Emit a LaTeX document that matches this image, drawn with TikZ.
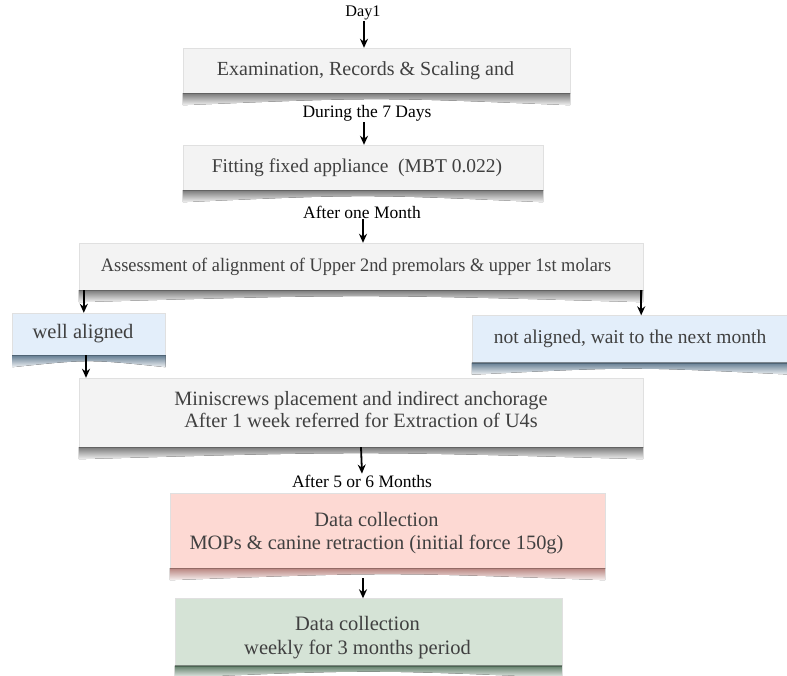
\documentclass[tikz,border=0pt]{standalone}
\usepackage{fontspec}
\setmainfont{Liberation Serif}
\newfontfamily\narrowserif[FakeStretch=0.965]{Liberation Serif}
\usetikzlibrary{arrows.meta,calc}
\definecolor{greyfill}{HTML}{F3F3F3}
\definecolor{greyshadow}{HTML}{7A7A7A}
\definecolor{bluefill}{HTML}{E3EEFA}
\definecolor{blueshadow}{HTML}{647D92}
\definecolor{pinkfill}{HTML}{FDD9D3}
\definecolor{pinkshadow}{HTML}{B8847F}
\definecolor{greenfill}{HTML}{D5E3D6}
\definecolor{greenshadow}{HTML}{5E7D67}
\definecolor{boxtext}{HTML}{404040}
\tikzset{
  flowbox/.style={draw=black!12, line width=0.4pt, inner sep=0pt, text=boxtext},
  greybox/.style={flowbox, fill=greyfill},
  bluebox/.style={flowbox, fill=bluefill},
  pinkbox/.style={flowbox, fill=pinkfill},
  greenbox/.style={flowbox, fill=greenfill},
  steplabel/.style={inner sep=1pt, font=\fontsize{17.5}{19}\selectfont},
  flowarrow/.style={-{Stealth[length=9pt,width=8pt]}, line width=1.8pt, black}
}
\newcommand\curlshadow[2]{%
  \fill[top color=#2, bottom color=#2!10!white]
    (#1.south west) -- (#1.south east) -- ([yshift=-12pt]#1.south east)
    .. controls ([yshift=-4pt]#1.south) and ([yshift=-4pt]#1.south) .. ([yshift=-12pt]#1.south west) -- cycle;
  \draw[#2!80!black, line width=1pt] ([yshift=-0.5pt]#1.south west) -- ([yshift=-0.5pt]#1.south east);}
\newcommand\twolines[2]{\begin{tabular}{@{}c@{}}#1\\#2\end{tabular}}
\begin{document}
\begin{tikzpicture}[x=1pt,y=-1pt]
\useasboundingbox (0,0) rectangle (787,675);
\path[fill=white] (0,0) rectangle (787,675);

% labels
\node[steplabel, font=\fontsize{16.2}{18}\selectfont] (day) at (363,13) {Day1};
\node[steplabel] (l7) at (367,113) {During the 7 Days};
\node[steplabel] (lm) at (362,212) {After one Month};
\node[steplabel] (l56) at (362,481) {After 5 or 6 Months};

% boxes
\node[greybox, minimum width=387pt, minimum height=45pt, font=\fontsize{20}{22}\selectfont] (b1) at (376.5,70.5) {Examination, Records \& Scaling and\kern22pt};
\node[greybox, minimum width=360pt, minimum height=45pt, font=\fontsize{19.5}{22}\selectfont] (b2) at (363,167.5) {Fitting fixed appliance\ \ (MBT 0.022)\kern12pt};
\node[greybox, minimum width=564pt, minimum height=47pt, font=\narrowserif\fontsize{19}{21}\selectfont] (b3) at (361,266.5) {Assessment of alignment of Upper 2nd premolars \& upper 1st molars\kern10pt};
\node[bluebox, minimum width=153pt, minimum height=42pt, font=\fontsize{20.5}{22}\selectfont] (wa) at (89,334) {well aligned\kern12pt};
\node[bluebox, minimum width=320pt, minimum height=47pt, font=\fontsize{19.5}{22}\selectfont] (na) at (632,339) {not aligned, wait to the next month\kern4pt};
\node[greybox, minimum width=564pt, minimum height=69pt, font=\fontsize{20.3}{22}\selectfont] (b4) at (361,412.5) {\twolines{Miniscrews placement and indirect anchorage}{After 1 week referred for Extraction of U4s}};
\node[pinkbox, minimum width=435pt, minimum height=75pt, font=\fontsize{20.4}{23}\selectfont] (b5) at (387.5,530.5) {\raisebox{-3pt}[\height][\depth]{\twolines{Data collection}{MOPs \& canine retraction (initial force 150g)}}\kern22pt};
\node[greenbox, minimum width=387pt, minimum height=67pt, font=\fontsize{20.5}{24}\selectfont] (b6) at (368.5,632) {\raisebox{-6pt}[\height][\depth]{\twolines{Data collection}{weekly for 3 months period}}\kern22pt};

% curled shadows
\curlshadow{b1}{greyshadow}
\curlshadow{b2}{greyshadow}
\curlshadow{b3}{greyshadow}
\curlshadow{wa}{blueshadow}
\curlshadow{na}{blueshadow}
\curlshadow{b4}{greyshadow}
\curlshadow{b5}{pinkshadow}
\curlshadow{b6}{greenshadow}

% connectors
\draw[flowarrow] (day.south -| 364,0) -- (b1.north -| 364,0);
\draw[flowarrow] (l7.south -| 364,0) -- (b2.north -| 364,0);
\draw[flowarrow] (lm.south -| 363,0) -- (b3.north -| 363,0);
\draw[flowarrow] ([xshift=5pt]b3.south west) -- ([xshift=5pt]b3.south west |- wa.north);
\draw[flowarrow] ([xshift=-2pt]b3.south east) -- ([xshift=-2pt]b3.south east |- na.north);
\draw[flowarrow] ([xshift=-3pt]wa.south) -- ([xshift=-3pt]wa.south |- b4.north);
\draw[flowarrow] (b4.south) -- (l56.north);
\draw[flowarrow] ([yshift=-10pt]b5.south -| 363,0) -- (b6.north -| 363,0);
\end{tikzpicture}
\end{document}
